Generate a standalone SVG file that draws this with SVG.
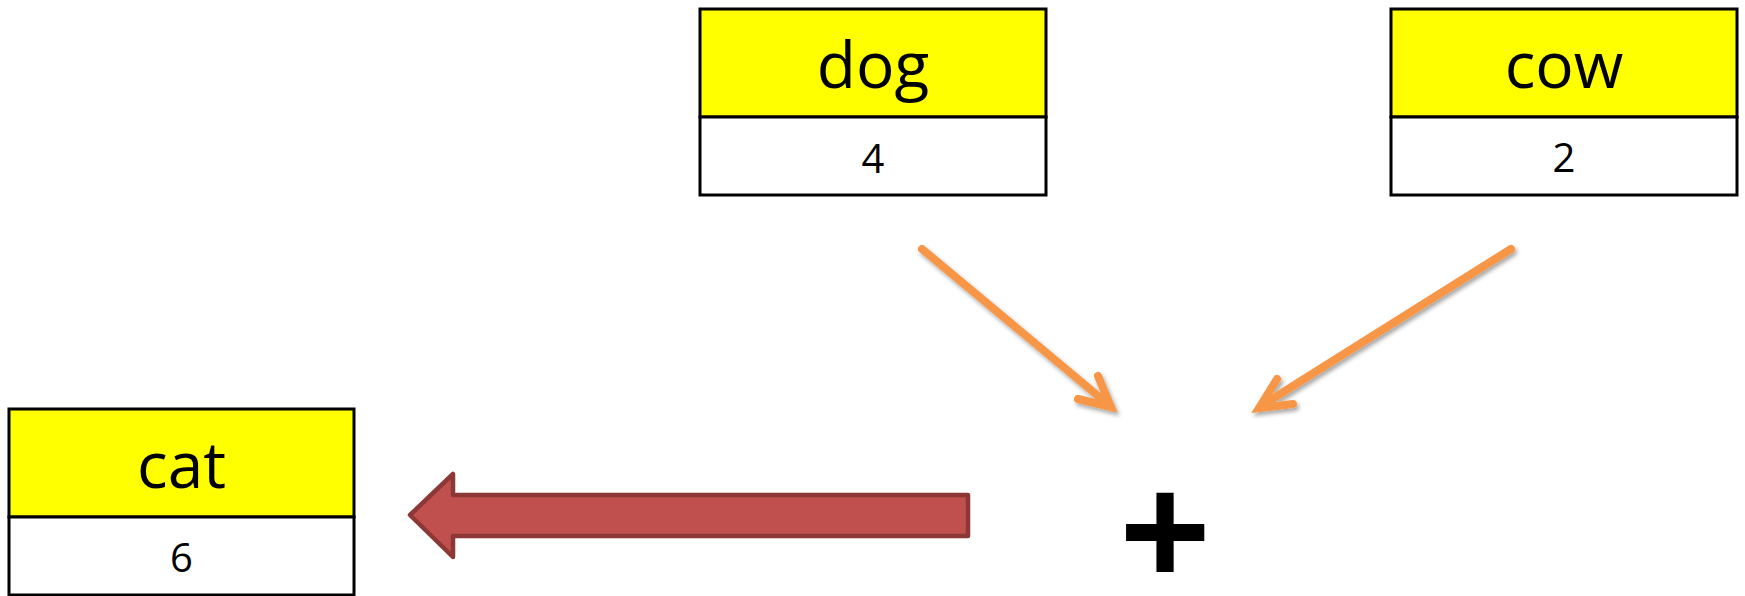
<svg xmlns="http://www.w3.org/2000/svg" width="1745" height="596" viewBox="0 0 1745 596">
<style>
.hdr{fill:#FFFF00;stroke:#000;stroke-width:3}
.val{fill:#FFFFFF;stroke:#000;stroke-width:3}
.name{font-family:"Open Sans","Liberation Sans",sans-serif;font-size:64px;fill:#000;text-anchor:middle}
.num{font-family:"Open Sans","Liberation Sans",sans-serif;font-size:40px;fill:#000;text-anchor:middle}
.oarrow{fill:none;stroke:#F79646;stroke-width:8;stroke-linecap:round;stroke-linejoin:miter;filter:url(#sh)}
</style>
<defs>
<filter id="sh" x="-20%" y="-20%" width="140%" height="140%">
<feDropShadow dx="2" dy="3" stdDeviation="2" flood-color="#000" flood-opacity="0.35"/>
</filter>
</defs>
<rect width="1745" height="596" fill="#FFFFFF"/>
<g id="dog">
<rect class="hdr" x="700" y="9" width="346" height="108"/>
<rect class="val" x="700" y="117" width="346" height="78"/>
<text class="name" x="873" y="88">dog</text>
<text class="num" x="873" y="173">4</text>
</g>
<g id="cow">
<rect class="hdr" x="1391" y="9" width="346" height="108"/>
<rect class="val" x="1391" y="117" width="346" height="78"/>
<text class="name" x="1564" y="88">cow</text>
<text class="num" x="1564" y="172">2</text>
</g>
<g id="cat">
<rect class="hdr" x="9" y="409" width="345" height="108"/>
<rect class="val" x="9" y="517" width="345" height="78"/>
<text class="name" x="181.5" y="488">cat</text>
<text class="num" x="181.5" y="572">6</text>
</g>
<g id="plus">
<text x="1165" y="584" font-family="Liberation Sans, Arial, sans-serif" font-size="156" font-weight="bold" text-anchor="middle" fill="#000">+</text>
</g>
<g id="connectors">
<g class="oarrow">
<path d="M922 249 L1109 405"/>
<path d="M1098 376 L1111 407 L1078 399"/>
</g>
<g class="oarrow">
<path d="M1511 249 L1261 406"/>
<path d="M1277 379 L1259 408 L1293 404"/>
</g>
<path d="M410 515 L453 474 L453 495 L968 495 L968 536 L453 536 L453 557 Z" fill="#C0504D" stroke="#8C3836" stroke-width="4.5" stroke-linejoin="round"/>
</g>
</svg>
